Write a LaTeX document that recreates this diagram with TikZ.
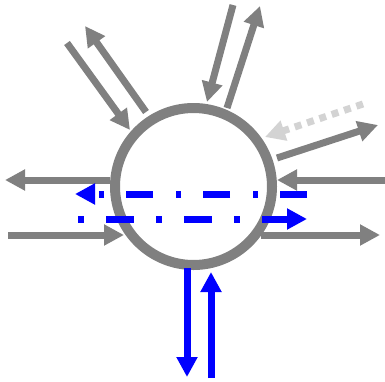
\documentclass[tikz,border=0pt]{standalone}
\usetikzlibrary{arrows.meta}
\definecolor{ringgray}{HTML}{808080}
\definecolor{lightg}{HTML}{D3D3D3}
\definecolor{pureblue}{HTML}{0000FF}
\tikzset{
  tip/.style={-{Triangle[length=20pt,width=20pt]}},
  garrow/.style={draw=ringgray, line width=7pt, tip},
  larrow/.style={draw=lightg, line width=7pt, tip, dash pattern=on 7pt off 6pt},
  barrow/.style={draw=pureblue, line width=7pt, tip},
  ringstyle/.style={circle, draw=ringgray, line width=10pt, fill=white, minimum size=157pt, inner sep=0pt}
}
\begin{document}
\begin{tikzpicture}[x=1pt,y=-1pt]
\useasboundingbox (0,0) rectangle (385,381);
% endpoints
\coordinate (ulin0) at (67,43);   \coordinate (ulin1) at (130,130);
\coordinate (ulout0) at (146,112); \coordinate (ulout1) at (85,26);
\coordinate (tin0) at (233,5);    \coordinate (tin1) at (207,102);
\coordinate (tout0) at (227,108); \coordinate (tout1) at (260,6);
\coordinate (dot0) at (363,104);  \coordinate (dot1) at (265,137);
\coordinate (rout0) at (277,158); \coordinate (rout1) at (378,125);
\coordinate (rin0) at (385,180);  \coordinate (rin1) at (277,180);
\coordinate (lout0) at (110,180); \coordinate (lout1) at (5,180);
\coordinate (lin0) at (8,235);    \coordinate (lin1) at (124,235);
\coordinate (rlo0) at (261,235);  \coordinate (rlo1) at (380,235);
\coordinate (bt0) at (307,194);   \coordinate (bt1) at (75,194);
\coordinate (bb0) at (78,219);    \coordinate (bb1) at (307,219);
\coordinate (bd0) at (187,268);   \coordinate (bd1) at (187,377);
\coordinate (bu0) at (211,378);   \coordinate (bu1) at (211,272);
% gray arrows
\draw[garrow] (ulin0) -- (ulin1);
\draw[garrow] (ulout0) -- (ulout1);
\draw[garrow] (tin0) -- (tin1);
\draw[garrow] (tout0) -- (tout1);
\draw[larrow] (dot0) -- (dot1);
\draw[garrow] (rout0) -- (rout1);
\draw[garrow] (rin0) -- (rin1);
\draw[garrow] (lout0) -- (lout1);
\draw[garrow] (lin0) -- (lin1);
\draw[garrow] (rlo0) -- (rlo1);
% ring
\node[ringstyle] (ring) at (193.5,186.5) {};
% blue arrows
\draw[barrow, dash pattern=on 27pt off 22pt on 5pt off 23pt] (bt0) -- (bt1);
\draw[barrow, dash pattern=on 6pt off 22pt on 28pt off 22pt] (bb0) -- (bb1);
\draw[barrow] (bd0) -- (bd1);
\draw[barrow] (bu0) -- (bu1);
\end{tikzpicture}
\end{document}
